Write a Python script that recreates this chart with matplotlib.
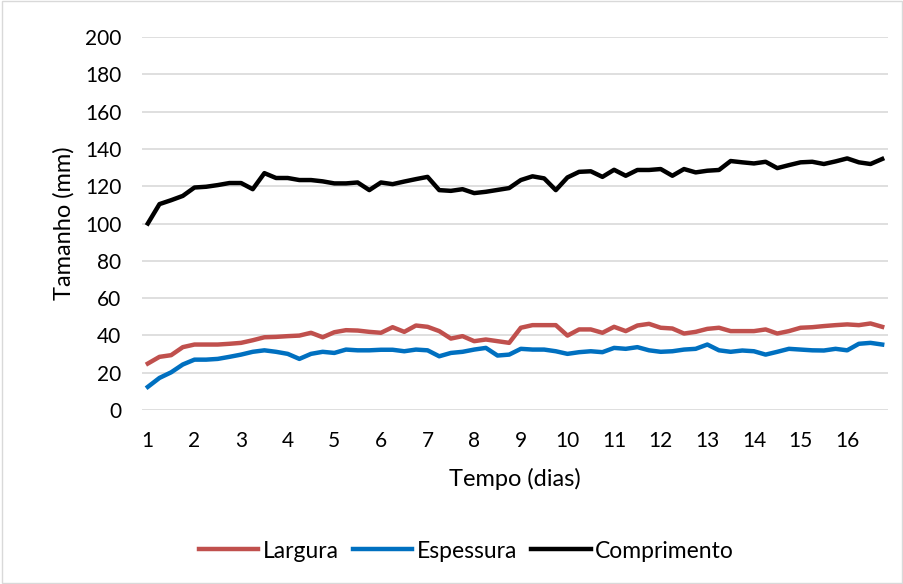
import numpy as np
import matplotlib.pyplot as plt
from matplotlib.patches import Rectangle

plt.rcParams['font.family'] = ['Lato', 'DejaVu Sans']

# time in days, 4 readings per day
tempo = np.arange(64) * 0.25 + 1

largura = [24.9, 28.5, 29.4, 33.7, 35.1, 35.1, 35.1, 35.5, 36.0, 37.4,
           39.0, 39.2, 39.6, 39.9, 41.4, 39.0, 41.7, 42.8, 42.6, 41.9,
           41.4, 44.4, 41.9, 45.3, 44.6, 42.3, 38.3, 39.6, 36.9, 37.8,
           36.9, 36.0, 44.1, 45.5, 45.5, 45.5, 39.9, 43.2, 43.2, 41.4,
           44.6, 42.3, 45.3, 46.2, 44.1, 43.7, 41.0, 41.9, 43.5, 44.1,
           42.3, 42.3, 42.3, 43.2, 41.0, 42.3, 44.1, 44.4, 45.0, 45.5,
           45.9, 45.5, 46.4, 44.6]

espessura = [12.4, 17.2, 20.2, 24.4, 27.0, 27.0, 27.4, 28.5, 29.7, 31.2,
             32.0, 31.2, 30.1, 27.4, 30.1, 31.2, 30.6, 32.4, 32.0, 32.0,
             32.3, 32.3, 31.5, 32.4, 32.0, 28.8, 30.6, 31.2, 32.4, 33.3,
             29.2, 29.7, 32.8, 32.4, 32.4, 31.5, 30.1, 31.0, 31.5, 31.0,
             33.3, 32.8, 33.7, 32.0, 31.2, 31.5, 32.4, 32.8, 35.1, 32.0,
             31.2, 31.9, 31.5, 29.7, 31.2, 32.8, 32.4, 32.0, 31.9, 32.8,
             32.0, 35.5, 36.0, 35.1]

comprimento = [100.0, 110.4, 112.5, 114.8, 119.3, 119.7, 120.6, 121.7, 121.7, 118.4,
               127.0, 124.4, 124.4, 123.3, 123.3, 122.6, 121.5, 121.5, 122.0, 117.9,
               122.0, 121.1, 122.5, 123.8, 125.0, 117.9, 117.5, 118.4, 116.3, 117.0,
               118.0, 119.0, 123.3, 125.3, 124.2, 117.9, 124.7, 127.7, 128.0, 125.0,
               128.8, 125.6, 128.7, 128.7, 129.2, 125.6, 129.2, 127.4, 128.3, 128.7,
               133.5, 132.8, 132.2, 133.1, 129.7, 131.3, 132.8, 133.1, 131.9, 133.3,
               134.9, 132.8, 131.9, 134.6]

fig = plt.figure(figsize=(9.04, 5.84), dpi=100)
ax = fig.add_axes([142 / 904, 1 - 410 / 584, 746 / 904, 373 / 584])

ax.plot(tempo, largura, color='#C0504D', lw=3.2, label='Largura', solid_joinstyle='round')
ax.plot(tempo, espessura, color='#0070C0', lw=3.2, label='Espessura', solid_joinstyle='round')
ax.plot(tempo, comprimento, color='#000000', lw=3.2, label='Comprimento', solid_joinstyle='round')

ax.set_xlim(0.875, 16.875)
ax.set_ylim(0, 200)
ax.set_xticks(range(1, 17))
ax.set_yticks(range(0, 201, 20))
ax.tick_params(length=0, labelsize=15, pad=15)
ax.grid(axis='y', color='#D9D9D9', lw=1.2)
ax.set_axisbelow(True)
for s in ax.spines.values():
    s.set_visible(False)

ax.set_xlabel('Tempo (dias)', fontsize=17, labelpad=12)
ax.set_ylabel('Tamanho (mm)', fontsize=17, labelpad=7)

fig.legend(loc='center', bbox_to_anchor=(0.516, 1 - 551 / 584), ncol=3, frameon=False,
           fontsize=16.5, handlelength=2.6, columnspacing=0.6, handletextpad=0.2)

fig.patches.append(Rectangle((0.002, 0.002), 0.996, 0.996, transform=fig.transFigure,
                             fill=False, edgecolor='#D9D9D9', lw=1))

fig.savefig('out.png', dpi=100)
